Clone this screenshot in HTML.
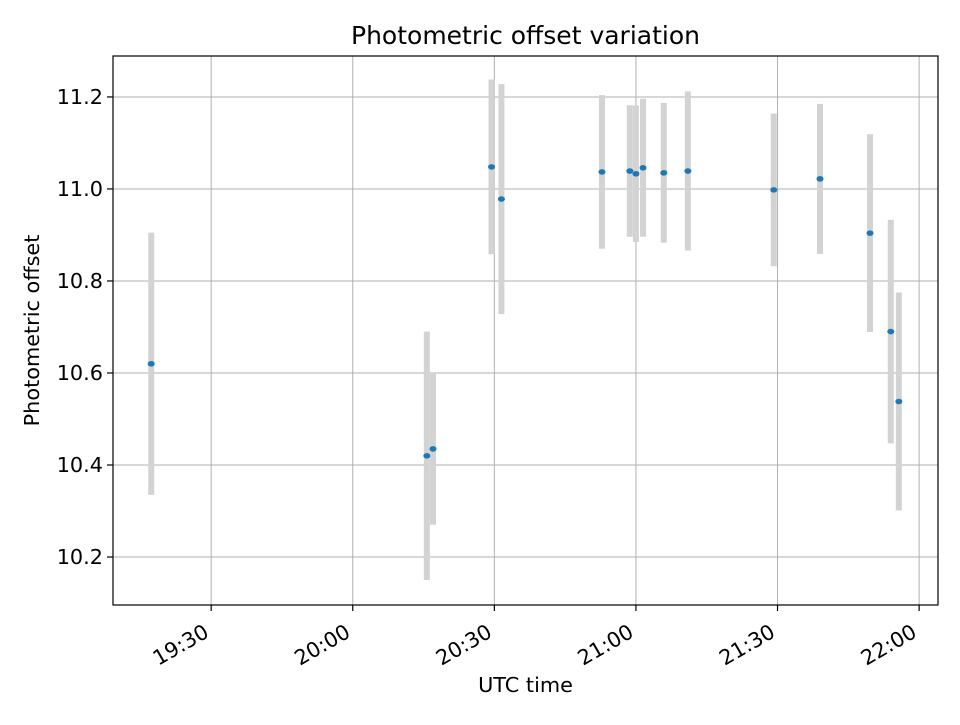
<!DOCTYPE html>
<html><head><meta charset="utf-8"><style>
body{margin:0;background:#fff}
svg text{font-family:"DejaVu Sans","Liberation Sans",sans-serif;fill:#000}
</style></head><body>
<svg id="c" width="960" height="720" viewBox="0 0 960 720" xmlns="http://www.w3.org/2000/svg"></svg>
<script>
const times = ["19:17.3","20:15.7","20:17.0","20:29.4","20:31.5","20:52.8","20:58.7","21:00.0","21:01.5","21:05.9","21:11.0","21:29.2","21:39.0","21:49.6","21:54.0","21:55.7"];
const values = [10.62,10.42,10.435,11.048,10.978,11.037,11.039,11.033,11.046,11.035,11.039,10.998,11.022,10.904,10.69,10.538];
const errors = [0.285,0.27,0.165,0.19,0.25,0.167,0.143,0.148,0.15,0.152,0.173,0.166,0.163,0.215,0.243,0.237];
const xTickLabels = ["19:30","20:00","20:30","21:00","21:30","22:00"];
const yTickLabels = ["10.2","10.4","10.6","10.8","11.0","11.2"];
const xMin = "19:09.2", xMax = "22:04.0", yMin = 10.0957, yMax = 11.289;

const L=113,R=938,T=56,B=605;
const NS="http://www.w3.org/2000/svg";
const svg=document.getElementById('c');
function mins(s){const [h,m]=s.split(':');return +h*60+parseFloat(m);}
const x=t=>L+(mins(t)-mins(xMin))/(mins(xMax)-mins(xMin))*(R-L);
const y=v=>B-(v-yMin)/(yMax-yMin)*(B-T);
function el(tag,attrs,parent){const e=document.createElementNS(NS,tag);for(const k in attrs)e.setAttribute(k,attrs[k]);(parent||svg).appendChild(e);return e;}

const grid=el('g',{});


xTickLabels.forEach(l=>{const px=x(l);el('line',{x1:px,x2:px,y1:T,y2:B,stroke:'#b0b0b0','stroke-width':1},grid);});
yTickLabels.forEach(l=>{const py=y(+l);el('line',{x1:L,x2:R,y1:py,y2:py,stroke:'#b0b0b0','stroke-width':1},grid);});

const eb=el('g',{});


times.forEach((t,i)=>{const e=el('line',{x1:x(t),x2:x(t),y1:y(values[i]+errors[i]),y2:y(values[i]-errors[i]),stroke:'#d3d3d3','stroke-width':6},eb);

});
const pts=el('g',{});


times.forEach((t,i)=>{const p=el('ellipse',{cx:x(t),cy:y(values[i]),rx:3.5,ry:2.8,fill:'#1f77b4'},pts);

});

const frame=el('rect',{x:L,y:T,width:R-L,height:B-T,fill:'none',stroke:'#000','stroke-width':1.2});



const xa=el('g',{});


xTickLabels.forEach(l=>{const px=x(l);el('line',{x1:px,x2:px,y1:B,y2:B+6,stroke:'#000','stroke-width':1.2},xa);
const ax=px-1, ay=B+31;
const tx=el('text',{x:ax,y:ay,'font-size':20.8,'text-anchor':'end',transform:`rotate(-30 ${ax} ${ay})`},xa);tx.textContent=l;

});
const ya=el('g',{});


yTickLabels.forEach(l=>{const py=y(+l);el('line',{x1:L-6,x2:L,y1:py,y2:py,stroke:'#000','stroke-width':1.2},ya);
const tx=el('text',{x:L-10,y:py+7,'font-size':20.8,'text-anchor':'end'},ya);tx.textContent=l;

});

const title=el('text',{x:(L+R)/2,y:44,'font-size':25,'text-anchor':'middle'});title.textContent='Photometric offset variation';


const xt=el('text',{x:(L+R)/2,y:692,'font-size':20.8,'text-anchor':'middle'});xt.textContent='UTC time';


const yx=39, yy=(T+B)/2+0;
const yt=el('text',{x:yx,y:yy,'font-size':20.8,'text-anchor':'middle',transform:`rotate(-90 ${yx} ${yy})`});yt.textContent='Photometric offset';


</script>
</body></html>
